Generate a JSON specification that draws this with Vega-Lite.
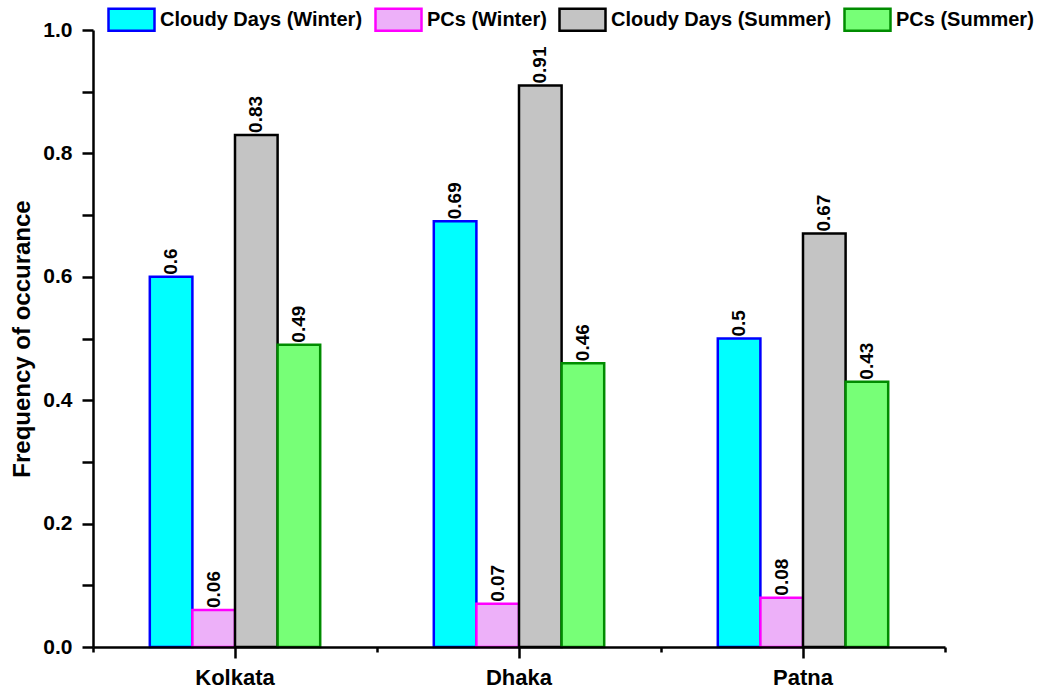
{
  "$schema": "https://vega.github.io/schema/vega-lite/v6.json",
  "width": 852,
  "height": 617,
  "autosize": {"type": "none"},
  "padding": {"left": 93, "top": 30, "right": 103, "bottom": 43},
  "background": "white",
  "config": {"view": {"stroke": null}, "font": "Liberation Sans"},
  "data": {
    "values": [
      {"city": "Kolkata", "series": "Cloudy Days (Winter)", "value": 0.6},
      {"city": "Kolkata", "series": "PCs (Winter)", "value": 0.06},
      {"city": "Kolkata", "series": "Cloudy Days (Summer)", "value": 0.83},
      {"city": "Kolkata", "series": "PCs (Summer)", "value": 0.49},
      {"city": "Dhaka", "series": "Cloudy Days (Winter)", "value": 0.69},
      {"city": "Dhaka", "series": "PCs (Winter)", "value": 0.07},
      {"city": "Dhaka", "series": "Cloudy Days (Summer)", "value": 0.91},
      {"city": "Dhaka", "series": "PCs (Summer)", "value": 0.46},
      {"city": "Patna", "series": "Cloudy Days (Winter)", "value": 0.5},
      {"city": "Patna", "series": "PCs (Winter)", "value": 0.08},
      {"city": "Patna", "series": "Cloudy Days (Summer)", "value": 0.67},
      {"city": "Patna", "series": "PCs (Summer)", "value": 0.43}
    ]
  },
  "encoding": {
    "xOffset": {
      "field": "series", "type": "nominal",
      "scale": {"domain": ["_L", "Cloudy Days (Winter)", "PCs (Winter)", "Cloudy Days (Summer)", "PCs (Summer)", "_R"], "paddingInner": 0, "paddingOuter": 0.3333}
    },
    "y": {
      "field": "value", "type": "quantitative",
      "scale": {"domain": [0, 1], "nice": false},
      "axis": {
        "orient": "left", "title": "Frequency of occurance", "titleFontSize": 24, "titleFont": "Liberation Sans", "titleFontWeight": "bold", "titleColor": "black", "titlePadding": 8,
        "values": [0, 0.1, 0.2, 0.3, 0.4, 0.5, 0.6, 0.7, 0.8, 0.9, 1.0],
        "labelExpr": "round(datum.value*10)%2==0 ? format(datum.value,'.1f') : ''",
        "labelOverlap": false, "labelFontSize": 21, "labelFont": "Liberation Sans", "labelFontWeight": "bold", "labelColor": "black", "labelPadding": 10,
        "tickSize": 11, "tickWidth": 2.5, "tickColor": "black", "domainWidth": 2.5, "domainColor": "black", "grid": false, "zindex": 1,
        "encode": {"ticks": {"update": {"x2": {"signal": "round(datum.value*10)%2==1 ? -6 : -11"}}}}
      }
    }
  },
  "layer": [
    {
      "mark": {"type": "bar", "strokeWidth": 2.5},
      "encoding": {
        "x": {
          "field": "city", "type": "nominal", "sort": ["Kolkata", "Dhaka", "Patna"],
          "scale": {"paddingInner": 0, "paddingOuter": 0},
          "axis": {"orient": "bottom", "title": null, "labelFontSize": 22, "labelFont": "Liberation Sans", "labelFontWeight": "bold", "labelColor": "black", "labelPadding": 9, "labelAngle": 0, "tickSize": 11, "tickWidth": 2.5, "tickColor": "black", "domainWidth": 2.5, "domainColor": "black", "grid": false, "zindex": 1}
        },
        "fill": {
          "field": "series", "type": "nominal",
          "scale": {"domain": ["Cloudy Days (Winter)", "PCs (Winter)", "Cloudy Days (Summer)", "PCs (Summer)"], "range": ["#00FFFF", "#EDB0F9", "#C4C4C4", "#77FF77"]},
          "legend": {"orient": "none", "legendX": 14, "legendY": -35, "direction": "horizontal", "title": null, "padding": 0, "labelFontSize": 20, "labelFont": "Liberation Sans", "labelFontWeight": "bold", "labelColor": "black", "labelLimit": 400, "symbolType": "M-1,-0.48H1V0.48H-1Z", "symbolSize": 2116, "symbolStrokeWidth": 2.5, "labelOffset": 4, "columnPadding": 7, "symbolOpacity": 1}
        },
        "stroke": {
          "field": "series", "type": "nominal",
          "scale": {"domain": ["Cloudy Days (Winter)", "PCs (Winter)", "Cloudy Days (Summer)", "PCs (Summer)"], "range": ["#0000FF", "#FF00FF", "#000000", "#008C00"]},
          "legend": {"orient": "none", "legendX": 14, "legendY": -35, "direction": "horizontal", "title": null, "padding": 0, "labelFontSize": 20, "labelFont": "Liberation Sans", "labelFontWeight": "bold", "labelColor": "black", "labelLimit": 400, "symbolType": "M-1,-0.48H1V0.48H-1Z", "symbolSize": 2116, "symbolStrokeWidth": 2.5, "labelOffset": 4, "columnPadding": 7, "symbolOpacity": 1}
        }
      }
    },
    {
      "mark": {"type": "text", "angle": 270, "align": "left", "baseline": "middle", "dx": 2, "fontSize": 19, "fontWeight": "bold", "font": "Liberation Sans", "color": "black"},
      "encoding": {
        "x": {
          "field": "city", "type": "nominal", "sort": ["Kolkata", "Dhaka", "Patna"],
          "scale": {"paddingInner": 0, "paddingOuter": 0},
          "axis": {"orient": "bottom", "title": null, "labels": false, "domain": false, "tickBand": "extent", "tickSize": 5, "tickWidth": 2.5, "tickColor": "black", "grid": false, "zindex": 1}
        },
        "text": {"field": "value", "type": "quantitative", "format": ".2~f"}
      }
    }
  ],
  "resolve": {"axis": {"x": "independent"}}
}
